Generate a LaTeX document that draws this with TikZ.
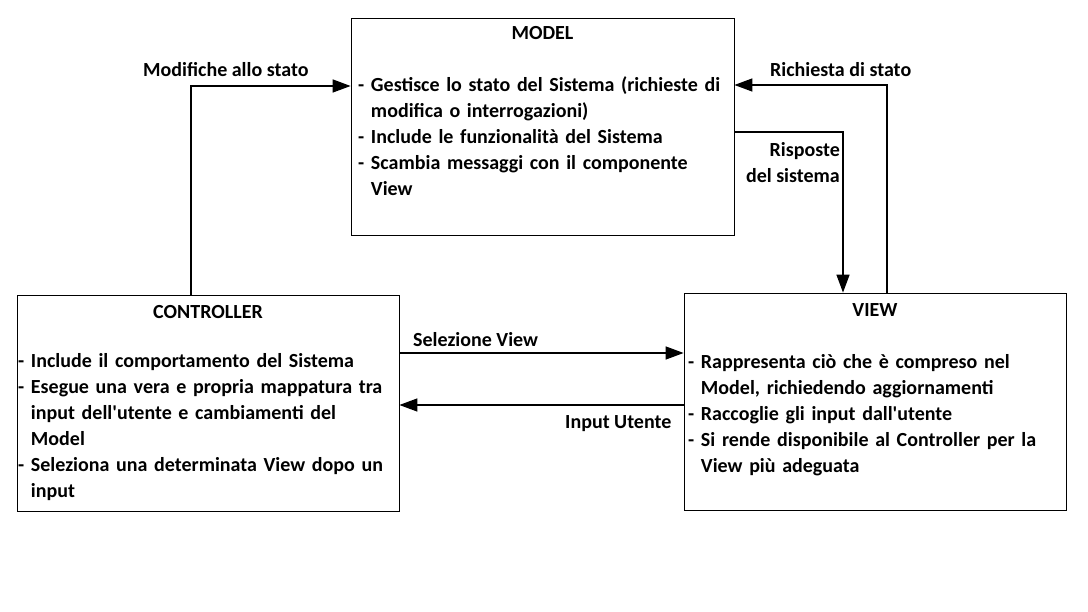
\documentclass[tikz,border=0pt]{standalone}
\usepackage{fontspec}
\setmainfont{Carlito}
\usetikzlibrary{arrows.meta}

\tikzset{
  box/.style={draw, line width=0.8pt, inner sep=0pt},
  title/.style={font=\fontsize{20}{26}\selectfont\bfseries, inner sep=0pt, anchor=base},
  body/.style={font=\fontsize{20}{26}\selectfont\bfseries, inner sep=0pt, anchor=base west,
               text width=380pt, align=left},
  lbl/.style={font=\fontsize{20}{26}\selectfont\bfseries, inner sep=0pt},
  arr/.style={line width=1.5pt, -{Triangle[length=18pt,width=13pt]}}
}
\newcommand{\cont}{\hphantom{- }}

\begin{document}
\begin{tikzpicture}[x=1pt,y=-1pt]

  \useasboundingbox (0,0) rectangle (1088,612);

  % the three components
  \node[box, minimum width=383pt, minimum height=217pt] (model) at (542.5,126.5) {};
  \node[box, minimum width=382pt, minimum height=216pt] (ctrl) at (208,403) {};
  \node[box, minimum width=382pt, minimum height=217pt] (view) at (875,401.5) {};

  \node[title] (modeltitle) at (542.5,40) {MODEL};
  \node[title] (ctrltitle) at (208,319) {CONTROLLER};
  \node[title] (viewtitle) at (875,317) {VIEW};

  \node[body] (modeltext) at (358,92) {- Gestisce lo stato del Sistema (richieste di\\
    \cont modifica o interrogazioni)\\
    - Include le funzionalità del Sistema\\
    - Scambia messaggi con il componente\\
    \cont View};
  \node[body] (ctrltext) at (18,368) {- Include il comportamento del Sistema\\
    - Esegue una vera e propria mappatura tra\\
    \cont input dell\textquotesingle utente e cambiamenti del\\
    \cont Model\\
    - Seleziona una determinata View dopo un\\
    \cont input};
  \node[body] (viewtext) at (688,369) {- Rappresenta ciò che è compreso nel\\
    \cont Model, richiedendo aggiornamenti\\
    - Raccoglie gli input dall\textquotesingle utente\\
    - Si rende disponibile al Controller per la\\
    \cont View più adeguata};

  % connectors
  \draw[arr] ([xshift=-17pt]ctrl.north) |- ([yshift=40.5pt]model.west);
  \draw[arr] ([xshift=12pt]view.north) |- ([yshift=41.5pt]model.east);
  \draw[arr] ([yshift=-5.5pt]model.east) -| ([xshift=-32pt]view.north);
  \draw[arr] ([yshift=50pt]ctrl.east) -- ([yshift=50pt]ctrl.east -| view.west);
  \draw[arr] ([yshift=-3.5pt]view.west) -- ([yshift=-3.5pt]view.west -| ctrl.east);

  % labels
  \node[lbl, anchor=base west] (lmod) at (143,77) {Modifiche allo stato};
  \node[lbl, anchor=base west] (lrich) at (770,77) {Richiesta di stato};
  \node[lbl, anchor=base east, align=right] (lrisp) at (840,183) {Risposte\\del sistema};
  \node[lbl, anchor=base west] (lsel) at (413,347) {Selezione View};
  \node[lbl, anchor=base west] (linp) at (565,429) {Input Utente};

\end{tikzpicture}
\end{document}
